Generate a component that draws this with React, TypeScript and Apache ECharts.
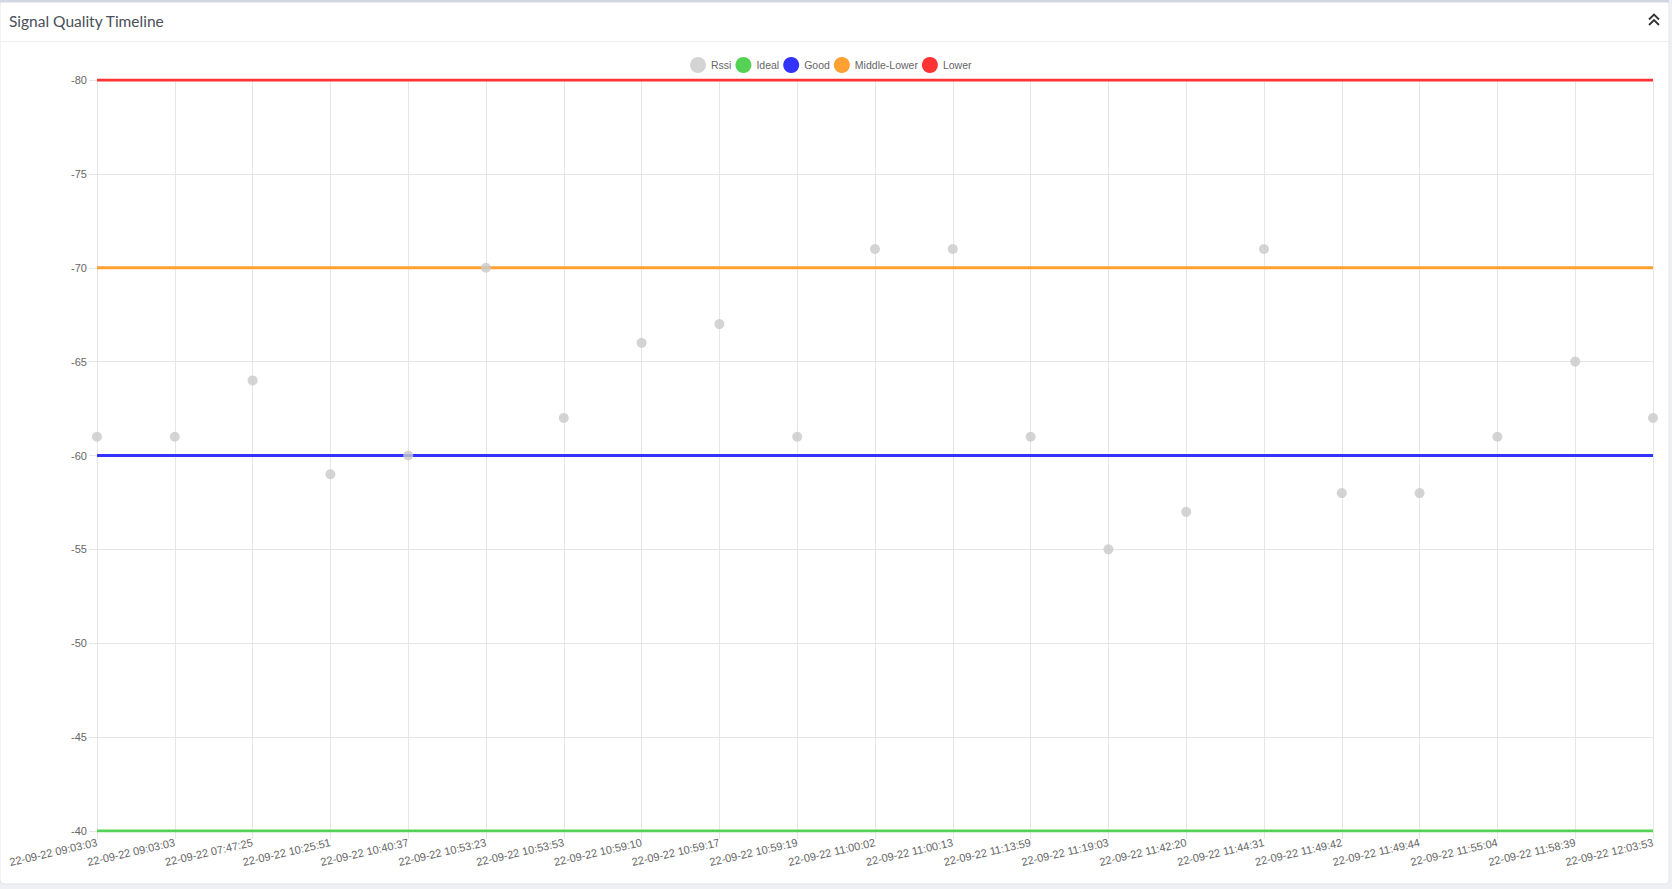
import React, { useEffect, useRef } from "react";
import * as echarts from "echarts";

const categories = [
  "22-09-22 09:03:03", "22-09-22 09:03:03", "22-09-22 07:47:25", "22-09-22 10:25:51",
  "22-09-22 10:40:37", "22-09-22 10:53:23", "22-09-22 10:53:53", "22-09-22 10:59:10",
  "22-09-22 10:59:17", "22-09-22 10:59:19", "22-09-22 11:00:02", "22-09-22 11:00:13",
  "22-09-22 11:13:59", "22-09-22 11:19:03", "22-09-22 11:42:20", "22-09-22 11:44:31",
  "22-09-22 11:49:42", "22-09-22 11:49:44", "22-09-22 11:55:04", "22-09-22 11:58:39",
  "22-09-22 12:03:53",
];

const rssi = [-61, -61, -64, -59, -60, -70, -62, -66, -67, -61, -71, -71, -61, -55, -57, -71, -58, -58, -61, -65, -62];

const thresholds = [
  { name: "Ideal", value: -40, color: "#55d255" },
  { name: "Good", value: -60, color: "#3333ff" },
  { name: "Middle-Lower", value: -70, color: "#ffa033" },
  { name: "Lower", value: -80, color: "#ff3333" },
];

const yMin = -80;
const yMax = -40;
const yStep = 5;

const FONT = "'Liberation Sans', Arial, Helvetica, sans-serif";

export default function App() {
  const ref = useRef<HTMLDivElement>(null);

  useEffect(() => {
    if (!ref.current) return;
    const chart = echarts.init(ref.current, undefined, { renderer: "svg" });
    const gridColor = "#e6e6e6";
    const option: any = {
      animation: false,
      backgroundColor: "#eef0f4",
      textStyle: { fontFamily: FONT },
      graphic: [
        {
          type: "rect",
          shape: { x: 0, y: 0, width: 1669, height: 884, r: 4 },
          style: { fill: "#ffffff", stroke: "#e3e5ea", lineWidth: 1 },
          z: -10,
          silent: true,
        },
        {
          type: "rect",
          shape: { x: 0, y: 0, width: 1669, height: 2.5 },
          style: { fill: "#d3d7e3" },
          z: -9,
          silent: true,
        },
        {
          type: "line",
          shape: { x1: 0, y1: 41.5, x2: 1669, y2: 41.5 },
          style: { stroke: "#eeeeee", lineWidth: 1 },
          silent: true,
        },
        {
          type: "text",
          x: 9,
          y: 21,
          style: {
            text: "Signal Quality Timeline",
            fill: "#495057",
            font: "15.5px Lato, 'Open Sans', sans-serif",
            textVerticalAlign: "middle",
            verticalAlign: "middle",
          },
          silent: true,
        },
        {
          type: "polyline",
          shape: { points: [[1649, 19.5], [1654, 14.5], [1659, 19.5]] },
          style: { stroke: "#333333", lineWidth: 1.8, fill: null },
          silent: true,
        },
        {
          type: "polyline",
          shape: { points: [[1649, 25], [1654, 20], [1659, 25]] },
          style: { stroke: "#333333", lineWidth: 1.8, fill: null },
          silent: true,
        },
      ],
      legend: {
        top: 57,
        left: 690,
        padding: 0,
        itemWidth: 16,
        itemHeight: 16,
        itemGap: 4,
        icon: "circle",
        textStyle: { fontSize: 10.5, color: "#666666", fontFamily: FONT },
        data: ["Rssi", ...thresholds.map((t) => t.name)],
      },
      grid: {
        left: 97,
        right: 19,
        top: 80,
        bottom: 58,
        outerBoundsMode: "none",
        containLabel: false,
      },
      xAxis: {
        type: "category",
        data: categories,
        boundaryGap: false,
        axisLine: { show: true, lineStyle: { color: gridColor } },
        axisTick: { show: true, length: 8, alignWithLabel: true, interval: 0, lineStyle: { color: gridColor } },
        splitLine: { show: true, interval: 0, lineStyle: { color: gridColor } },
        axisLabel: {
          interval: 0,
          rotate: 13,
          margin: 11,
          fontSize: 11,
          color: "#666666",
          fontFamily: FONT,
        },
      },
      yAxis: {
        type: "value",
        inverse: true,
        min: yMin,
        max: yMax,
        interval: yStep,
        axisLine: { show: true, lineStyle: { color: gridColor } },
        axisTick: { show: true, length: 8, lineStyle: { color: gridColor } },
        splitLine: { show: true, lineStyle: { color: gridColor } },
        axisLabel: { fontSize: 11, color: "#666666", margin: 10, fontFamily: FONT },
      },
      series: [
        {
          name: "Rssi",
          type: "scatter",
          data: rssi,
          symbol: "circle",
          symbolSize: 10,
          itemStyle: { color: "#c9c9c9" },
          z: 10,
        },
        ...thresholds.map((t) => ({
          name: t.name,
          type: "line",
          data: categories.map(() => t.value),
          showSymbol: false,
          symbol: "circle",
          itemStyle: { color: t.color },
          lineStyle: { color: t.color, width: 2.8 },
          z: 3,
        })),
      ],
    };
    chart.setOption(option);
    return () => chart.dispose();
  }, []);

  return (
    <div
      ref={ref}
      style={{ position: "fixed", left: 0, top: 0, width: 1672, height: 889 }}
    />
  );
}
